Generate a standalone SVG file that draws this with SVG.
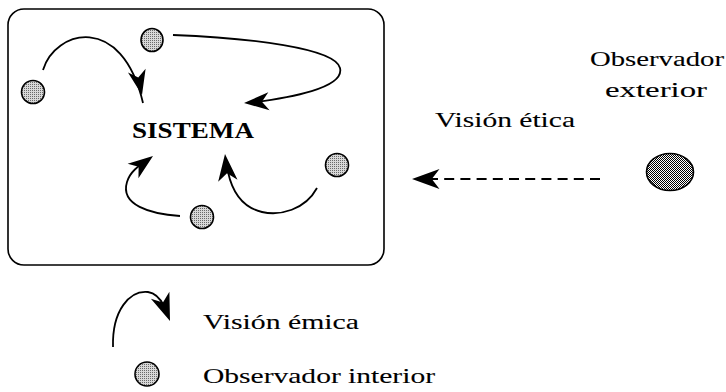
<svg xmlns="http://www.w3.org/2000/svg" xmlns:xlink="http://www.w3.org/1999/xlink" width="726" height="392" viewBox="0 0 726 392">
  <style>
    .frame { fill: none; stroke: #000; stroke-width: 1.6; }
    .obs { fill: url(#dotsLight); stroke: #000; stroke-width: 1.6; }
    .obs-ext { fill: url(#dotsDark); stroke: #000; stroke-width: 1.6; }
    .arc { fill: none; stroke: #000; stroke-width: 1.8; }
    .dash { fill: none; stroke: #000; stroke-width: 1.8; stroke-dasharray: 10 6.2; }
    .head { fill: #000; }
    .lbl { font-size: 21px; fill: #000; stroke: #000; stroke-width: 0.1; }
    .title { font-size: 23px; font-weight: bold; fill: #000; }
  </style>
  <defs>
    <!-- fine halftone fills for the observers -->
    <pattern id="dotsLight" width="2" height="2" patternUnits="userSpaceOnUse">
      <rect width="2" height="2" fill="#d8d8d8"/>
      <rect width="1" height="1" fill="#6a6a6a"/>
    </pattern>
    <pattern id="dotsDark" width="2" height="2" patternUnits="userSpaceOnUse">
      <rect width="2" height="2" fill="#ffffff"/>
      <rect width="1" height="1" fill="#000"/>
      <rect x="1" y="1" width="1" height="1" fill="#000"/>
    </pattern>
    <!-- swept arrowhead, tip at origin pointing along +x -->
    <path id="ah" class="head" d="M0,0 L-25,-9 L-18,0 L-25,9 Z"/>
  </defs>

  <!-- system boundary -->
  <g id="sistema">
    <rect class="frame" x="8" y="9" width="376" height="256" rx="16" ry="16"/>
    <text class="title" font-family="'Liberation Serif', 'DejaVu Serif', serif" x="132" y="138" textLength="122" lengthAdjust="spacingAndGlyphs">SISTEMA</text>
  </g>

  <!-- internal observers -->
  <g id="obs-left"><circle class="obs" cx="33" cy="92" r="11.5"/></g>
  <g id="obs-top"><ellipse class="obs" cx="152" cy="40" rx="11" ry="11.5"/></g>
  <g id="obs-right"><circle class="obs" cx="337" cy="165" r="11.5"/></g>
  <g id="obs-bottom"><circle class="obs" cx="202" cy="217" r="11.5"/></g>

  <!-- external observer -->
  <g id="obs-exterior">
    <ellipse class="obs-ext" cx="670" cy="172" rx="23.5" ry="18.5"/>
    <text class="lbl" font-family="'Liberation Serif', 'DejaVu Serif', serif" x="590" y="66" textLength="134" lengthAdjust="spacingAndGlyphs">Observador</text>
    <text class="lbl" font-family="'Liberation Serif', 'DejaVu Serif', serif" x="605" y="97" textLength="102" lengthAdjust="spacingAndGlyphs">exterior</text>
  </g>

  <!-- connectors: emic views inside, etic view from outside -->
  <g id="connectors">
    <path class="arc" d="M43,70 C55,30 122,12 143,103"/>
    <use xlink:href="#ah" href="#ah" transform="translate(142,95) rotate(78)"/>

    <path class="arc" d="M173,35 C250,38 335,48 340,68 C345,88 290,98 248,103"/>
    <use xlink:href="#ah" href="#ah" transform="translate(244,103) rotate(176)"/>

    <path class="arc" d="M180,216 C150,214 120,205 127,182 C130,172 138,166 148,160"/>
    <use xlink:href="#ah" href="#ah" transform="translate(153,156) rotate(-37)"/>

    <path class="arc" d="M317,188 C305,210 280,216 262,212 C245,208 233,195 228,172"/>
    <use xlink:href="#ah" href="#ah" transform="translate(225,154) rotate(-96) scale(1.08)"/>

    <path class="dash" d="M600,179 L430,179"/>
    <use xlink:href="#ah" href="#ah" transform="translate(412,179) rotate(180) scale(1.1)"/>
    <text class="lbl" font-family="'Liberation Serif', 'DejaVu Serif', serif" x="435" y="127" textLength="140" lengthAdjust="spacingAndGlyphs">Visión ética</text>
  </g>

  <!-- legend -->
  <g id="legend-emica">
    <path class="arc" d="M113,347 C112,310 130,290 148,292 C155,293 160,298 164,306"/>
    <use xlink:href="#ah" href="#ah" transform="translate(170,321) rotate(69) scale(1.1)"/>
    <text class="lbl" font-family="'Liberation Serif', 'DejaVu Serif', serif" x="203" y="329" textLength="156" lengthAdjust="spacingAndGlyphs">Visión  émica</text>
  </g>
  <g id="legend-interior">
    <circle class="obs" cx="147" cy="374" r="12"/>
    <text class="lbl" font-family="'Liberation Serif', 'DejaVu Serif', serif" x="203" y="383" textLength="232" lengthAdjust="spacingAndGlyphs">Observador interior</text>
  </g>
</svg>
